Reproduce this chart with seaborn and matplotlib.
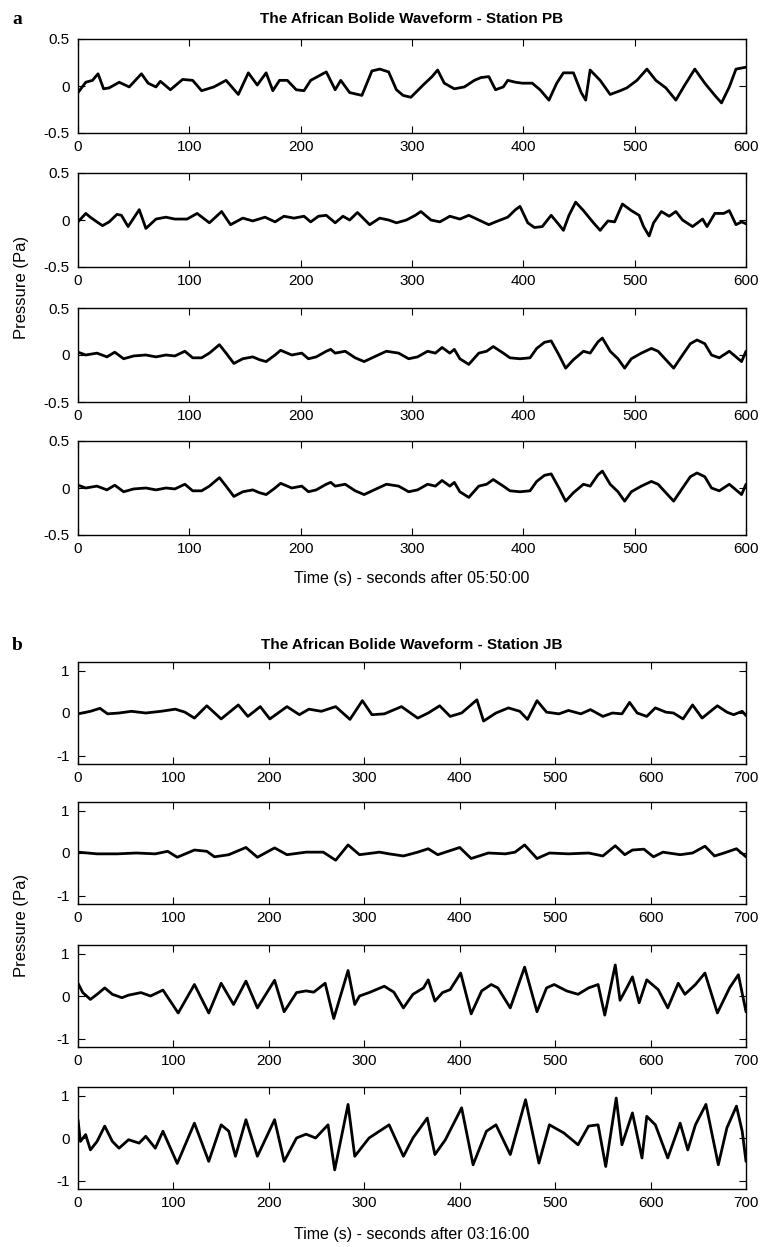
"""African bolide infrasound waveforms, stations PB and JB (4 channels each)."""

import matplotlib

matplotlib.use("Agg")
import matplotlib.pyplot as plt
import pandas as pd
import seaborn as sns

# ───────────────────────── Data ─────────────────────────

# Station PB, seconds after 05:50:00
pb1_t = [0, 7, 13, 18, 23, 28, 37, 46, 57, 63, 70, 74, 83, 94, 103, 111, 122, 133,
         144, 153, 161, 169, 175, 181, 188, 196, 203, 209, 223, 231, 236, 244, 255,
         264, 271, 279, 286, 292, 299, 310, 318, 323, 329, 338, 347, 356, 362, 369,
         375, 382, 386, 393, 399, 408, 415, 423, 430, 436, 445, 452, 456, 460, 469,
         478, 487, 493, 502, 511, 519, 528, 537, 545, 554, 563, 572, 578, 585, 591, 600]
pb1_pa = [-0.07, 0.04, 0.06, 0.13, -0.03, -0.02, 0.04, -0.01, 0.13, 0.03, -0.01, 0.05,
          -0.04, 0.07, 0.06, -0.05, -0.01, 0.06, -0.09, 0.14, 0.01, 0.14, -0.05, 0.06,
          0.06, -0.04, -0.05, 0.06, 0.15, -0.04, 0.06, -0.07, -0.10, 0.16, 0.18, 0.15,
          -0.04, -0.10, -0.12, 0.01, 0.10, 0.17, 0.03, -0.03, -0.01, 0.06, 0.09, 0.10,
          -0.04, -0.01, 0.06, 0.04, 0.03, 0.03, -0.04, -0.15, 0.03, 0.14, 0.14, -0.07,
          -0.15, 0.17, 0.06, -0.09, -0.05, -0.02, 0.06, 0.18, 0.06, -0.02, -0.15, 0.01,
          0.18, 0.03, -0.10, -0.18, -0.01, 0.18, 0.20]

pb2_t = [0, 7, 11, 17, 22, 28, 35, 39, 45, 55, 61, 70, 79, 87, 98, 107, 118, 129, 137,
         148, 157, 168, 177, 185, 194, 203, 209, 216, 223, 231, 238, 244, 251, 262, 271,
         279, 286, 295, 303, 308, 317, 325, 334, 343, 351, 360, 369, 375, 386, 393, 397,
         404, 410, 417, 425, 432, 436, 441, 447, 454, 463, 469, 476, 482, 489, 497, 504,
         508, 513, 517, 524, 531, 537, 543, 552, 561, 565, 572, 580, 585, 591, 596, 600]
pb2_pa = [-0.02, 0.07, 0.03, -0.02, -0.06, -0.02, 0.06, 0.05, -0.07, 0.11, -0.09, 0.01,
          0.03, 0.01, 0.01, 0.07, -0.03, 0.09, -0.05, 0.02, -0.01, 0.03, -0.02, 0.04,
          0.02, 0.04, -0.02, 0.04, 0.05, -0.03, 0.04, 0.00, 0.08, -0.05, 0.02, 0.00,
          -0.03, 0.00, 0.05, 0.09, 0.00, -0.02, 0.04, 0.01, 0.05, 0.00, -0.05, -0.02,
          0.03, 0.11, 0.145, -0.03, -0.08, -0.07, 0.05, -0.05, -0.11, 0.05, 0.19, 0.10,
          -0.03, -0.11, -0.01, -0.02, 0.17, 0.10, 0.05, -0.07, -0.17, -0.03, 0.09, 0.04,
          0.09, 0.00, -0.07, 0.01, -0.07, 0.07, 0.07, 0.10, -0.05, -0.02, -0.04]

pb3_t = [0, 7, 17, 26, 33, 41, 50, 61, 70, 79, 87, 96, 103, 111, 118, 127, 133, 140,
         148, 157, 163, 169, 177, 182, 192, 201, 207, 214, 223, 227, 231, 240, 249, 257,
         266, 277, 288, 297, 305, 314, 321, 327, 334, 338, 343, 351, 360, 367, 373, 382,
         388, 397, 406, 412, 419, 425, 432, 438, 445, 454, 460, 467, 471, 478, 485, 491,
         497, 506, 515, 521, 528, 535, 543, 550, 556, 563, 569, 576, 585, 591, 596, 600]
pb3_pa = [0.03, 0.00, 0.02, -0.02, 0.03, -0.04, -0.01, 0.00, -0.02, 0.00, -0.01, 0.04,
          -0.03, -0.03, 0.02, 0.11, 0.02, -0.09, -0.04, -0.02, -0.05, -0.07, 0.00, 0.05,
          0.00, 0.02, -0.04, -0.02, 0.04, 0.06, 0.02, 0.04, -0.03, -0.07, -0.02, 0.04,
          0.02, -0.04, -0.02, 0.04, 0.02, 0.08, 0.02, 0.06, -0.04, -0.10, 0.02, 0.04,
          0.09, 0.02, -0.03, -0.04, -0.03, 0.07, 0.135, 0.15, 0.00, -0.14, -0.05, 0.04,
          0.02, 0.14, 0.18, 0.04, -0.04, -0.14, -0.04, 0.02, 0.07, 0.04, -0.05, -0.14,
          0.00, 0.12, 0.16, 0.12, 0.00, -0.03, 0.04, -0.02, -0.07, 0.04]

# channel 4 is indistinguishable from channel 3 in the figure
pb4_t = list(pb3_t)
pb4_pa = list(pb3_pa)

# Station JB, seconds after 03:16:00
jb1_t = [0, 13, 23, 31, 43, 56, 71, 87, 102, 112, 122, 135, 150, 168, 178, 191, 201,
         219, 232, 242, 255, 270, 285, 298, 308, 321, 339, 356, 367, 379, 390, 402, 418,
         425, 438, 451, 463, 471, 481, 491, 504, 514, 527, 537, 550, 560, 570, 578, 586,
         596, 605, 616, 624, 634, 644, 654, 670, 680, 687, 696, 700]
jb1_pa = [-0.02, 0.04, 0.11, -0.02, 0.00, 0.04, 0.00, 0.04, 0.09, 0.02, -0.12, 0.17,
          -0.14, 0.19, -0.08, 0.15, -0.14, 0.15, -0.04, 0.09, 0.04, 0.15, -0.15, 0.29,
          -0.04, -0.02, 0.15, -0.12, 0.00, 0.17, -0.08, 0.00, 0.31, -0.19, 0.00, 0.12,
          0.04, -0.15, 0.29, 0.02, -0.02, 0.06, -0.02, 0.08, -0.08, 0.00, -0.02, 0.25,
          0.00, -0.08, 0.12, 0.02, 0.00, -0.14, 0.19, -0.12, 0.17, 0.02, -0.04, 0.04,
          -0.06]

jb2_t = [0, 20, 41, 61, 81, 94, 104, 122, 135, 143, 158, 176, 188, 206, 219, 239, 257,
         270, 283, 295, 316, 326, 341, 356, 367, 377, 400, 412, 430, 448, 458, 468, 481,
         494, 514, 535, 550, 563, 573, 581, 593, 603, 613, 631, 644, 657, 667, 677, 690,
         700]
jb2_pa = [0.02, -0.02, -0.02, 0.00, -0.02, 0.04, -0.10, 0.07, 0.04, -0.09, -0.04, 0.13,
          -0.10, 0.12, -0.04, 0.02, 0.02, -0.17, 0.19, -0.04, 0.02, -0.02, -0.07, 0.02,
          0.10, -0.04, 0.13, -0.13, 0.00, -0.02, 0.02, 0.19, -0.13, 0.00, -0.02, 0.00,
          -0.07, 0.17, -0.04, 0.07, 0.09, -0.09, 0.02, -0.04, 0.00, 0.16, -0.07, 0.00,
          0.10, -0.09]

jb3_t = [0, 5, 13, 20, 28, 36, 46, 53, 66, 76, 89, 105, 122, 137, 150, 163, 176, 188,
         206, 216, 229, 239, 247, 259, 268, 283, 290, 295, 305, 321, 331, 341, 351, 362,
         367, 374, 382, 390, 401, 412, 423, 433, 440, 453, 468, 481, 491, 499, 512, 524,
         535, 545, 552, 563, 568, 575, 581, 588, 596, 608, 618, 629, 636, 647, 657, 670,
         683, 692, 700]
jb3_pa = [0.30, 0.08, -0.08, 0.04, 0.19, 0.04, -0.04, 0.02, 0.08, 0.00, 0.14, -0.40,
          0.27, -0.40, 0.30, -0.20, 0.35, -0.28, 0.37, -0.37, 0.08, 0.12, 0.09, 0.30,
          -0.53, 0.60, -0.20, 0.00, 0.08, 0.23, 0.09, -0.28, 0.04, 0.19, 0.38, -0.12,
          0.08, 0.15, 0.54, -0.42, 0.12, 0.27, 0.19, -0.28, 0.68, -0.37, 0.19, 0.27,
          0.12, 0.04, 0.19, 0.27, -0.45, 0.73, -0.10, 0.19, 0.45, -0.16, 0.38, 0.15,
          -0.28, 0.30, 0.04, 0.27, 0.54, -0.40, 0.20, 0.50, -0.37]

jb4_t = [0, 2.5, 8, 13, 20, 28, 36, 43, 53, 64, 71, 81, 89, 104, 122, 137, 150, 158,
         165, 176, 188, 206, 216, 229, 239, 249, 262, 269, 283, 290, 305, 326, 341, 351,
         366, 374, 385, 402, 414, 428, 438, 453, 469, 483, 494, 509, 524, 535, 545, 553,
         564, 570, 581, 591, 596, 605, 618, 631, 639, 647, 658, 671, 680, 690, 696, 700]
jb4_pa = [0.43, -0.08, 0.08, -0.28, -0.08, 0.28, -0.08, -0.24, -0.04, -0.12, 0.04,
          -0.24, 0.16, -0.60, 0.35, -0.55, 0.31, 0.16, -0.43, 0.43, -0.43, 0.43, -0.55,
          0.00, 0.09, 0.00, 0.31, -0.75, 0.79, -0.43, 0.00, 0.31, -0.43, 0.00, 0.47,
          -0.39, -0.04, 0.71, -0.63, 0.16, 0.31, -0.39, 0.90, -0.59, 0.31, 0.12, -0.16,
          0.28, 0.31, -0.67, 0.94, -0.16, 0.59, -0.47, 0.51, 0.31, -0.47, 0.35, -0.28,
          0.31, 0.79, -0.63, 0.24, 0.75, 0.16, -0.55]

pb_traces = [(pb1_t, pb1_pa), (pb2_t, pb2_pa), (pb3_t, pb3_pa), (pb4_t, pb4_pa)]
jb_traces = [(jb1_t, jb1_pa), (jb2_t, jb2_pa), (jb3_t, jb3_pa), (jb4_t, jb4_pa)]

pb_xticks = [0, 100, 200, 300, 400, 500, 600]
jb_xticks = [0, 100, 200, 300, 400, 500, 600, 700]
pb_yticks = [-0.5, 0, 0.5]
pb_yticklabels = ["-0.5", "0", "0.5"]
jb_yticks = [-1, 0, 1]
jb_yticklabels = ["-1", "0", "1"]

# ───────────────────────── Style ─────────────────────────

sns.set_style("ticks")
plt.rcParams.update({
    "font.family": ["Liberation Sans", "DejaVu Sans"],
    "axes.unicode_minus": False,
    "text.color": "black",
    "axes.labelcolor": "black",
    "axes.edgecolor": "black",
    "axes.linewidth": 1.0,
    "xtick.direction": "in",
    "ytick.direction": "in",
    "xtick.top": True,
    "ytick.right": True,
    "xtick.major.size": 5,
    "ytick.major.size": 5,
    "xtick.color": "black",
    "ytick.color": "black",
    "xtick.labelcolor": "black",
    "ytick.labelcolor": "black",
    "xtick.labelsize": 11,
    "ytick.labelsize": 11,
})

W, H = 762, 1247
fig = plt.figure(figsize=(W / 100, H / 100), dpi=100)

AX_LEFT, AX_RIGHT = 78, 746


def add_panel(top_px, height_px):
    return fig.add_axes([AX_LEFT / W, 1 - (top_px + height_px) / H,
                         (AX_RIGHT - AX_LEFT) / W, height_px / H])


def draw_trace(ax, t, pa, xmax, ylim, xticks, yticks, yticklabels):
    df = pd.DataFrame({"time": t, "pressure": pa})
    sns.lineplot(data=df, x="time", y="pressure", ax=ax, color="black",
                 linewidth=2.0, estimator=None, sort=False)
    ax.set_xlim(0, xmax)
    ax.set_ylim(*ylim)
    ax.set_xticks(xticks)
    ax.set_xticklabels([str(x) for x in xticks])
    ax.set_yticks(yticks)
    ax.set_yticklabels(yticklabels)
    ax.set_xlabel("")
    ax.set_ylabel("")
    ax.tick_params(axis="x", pad=5)
    ax.tick_params(axis="y", pad=6)


# ───────────────────────── Station PB ─────────────────────────

pb_tops = [39, 173, 308, 441]
for top, (t, pa) in zip(pb_tops, pb_traces):
    ax = add_panel(top, 94)
    draw_trace(ax, t, pa, 600, (-0.5, 0.5), pb_xticks, pb_yticks, pb_yticklabels)

cx = (AX_LEFT + AX_RIGHT) / 2 / W
fig.text(cx, 1 - 19 / H, "The African Bolide Waveform - Station PB",
         ha="center", va="center", fontsize=11, fontweight="bold")
fig.text(17 / W, 1 - 19 / H, "a", ha="center", va="center", fontsize=14,
         fontweight="bold", family=["Liberation Serif", "DejaVu Serif"])
fig.text(cx, 1 - 578 / H, "Time (s) - seconds after 05:50:00",
         ha="center", va="center", fontsize=11.5)
fig.text(22 / W, 1 - 287 / H, "Pressure (Pa)", ha="center", va="center",
         rotation=90, fontsize=12)

# ───────────────────────── Station JB ─────────────────────────

jb_tops = [662, 802, 945, 1087]
for top, (t, pa) in zip(jb_tops, jb_traces):
    ax = add_panel(top, 102)
    draw_trace(ax, t, pa, 700, (-1.2, 1.2), jb_xticks, jb_yticks, jb_yticklabels)

fig.text(cx, 1 - 645 / H, "The African Bolide Waveform - Station JB",
         ha="center", va="center", fontsize=11, fontweight="bold")
fig.text(17 / W, 1 - 645 / H, "b", ha="center", va="center", fontsize=14,
         fontweight="bold", family=["Liberation Serif", "DejaVu Serif"])
fig.text(cx, 1 - 1235 / H, "Time (s) - seconds after 03:16:00",
         ha="center", va="center", fontsize=11.5)
fig.text(22 / W, 1 - 925 / H, "Pressure (Pa)", ha="center", va="center",
         rotation=90, fontsize=12)

fig.savefig("out.png", dpi=100, facecolor="white")
